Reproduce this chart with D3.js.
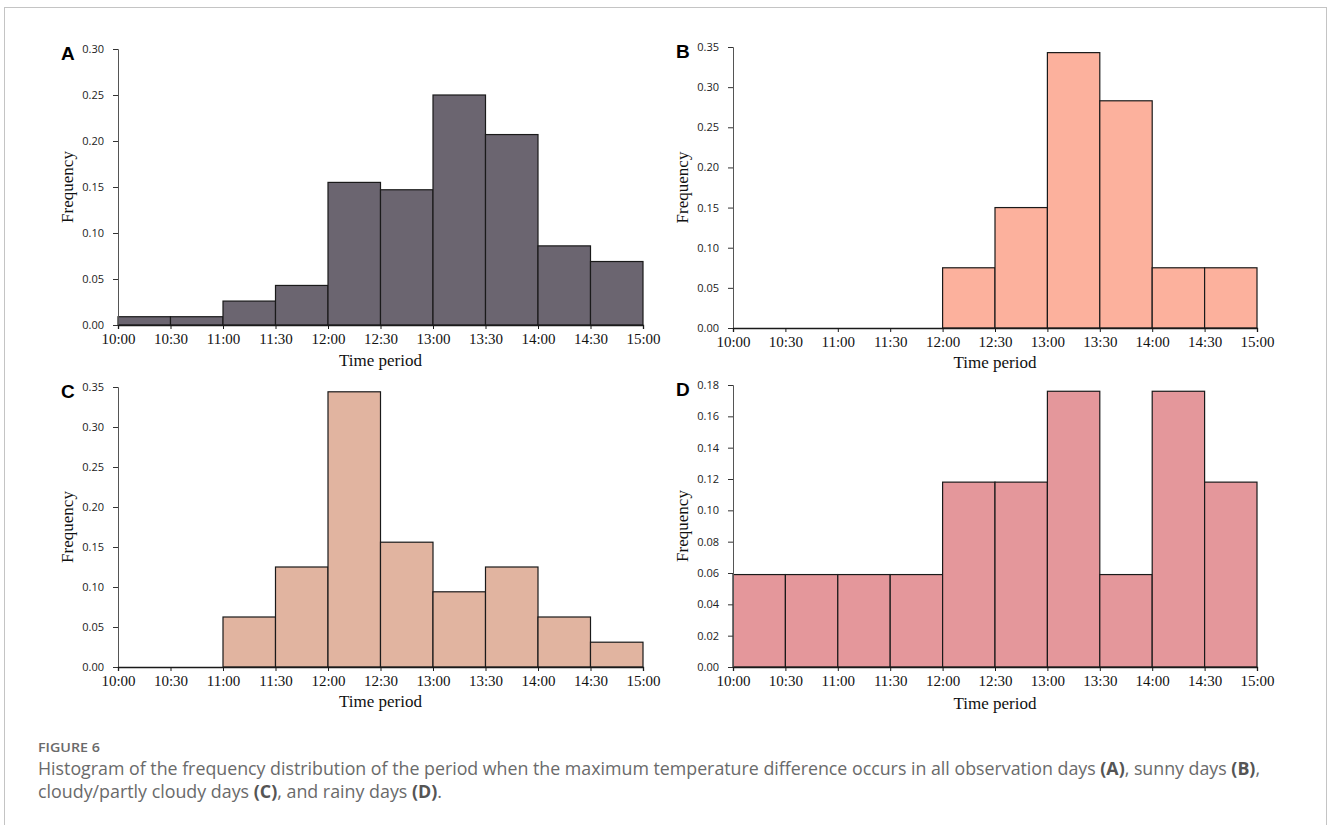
<!DOCTYPE html>
<html>
<head>
<meta charset="utf-8">
<script src="https://cdn.jsdelivr.net/npm/d3@7"></script>
<style>
  body { margin: 0; background: #fff; }
  svg { display: block; }
  .ytick text { font-family: "Open Sans", "Liberation Sans", sans-serif; font-size: 11px; fill: #222; }
  .xtick text { font-family: "Liberation Serif", "Times New Roman", serif; font-size: 15px; fill: #111; }
  .atitle { font-family: "Liberation Serif", "Times New Roman", serif; font-size: 17px; fill: #111; }
  .plabel { font-family: "Liberation Sans", Arial, sans-serif; font-size: 19px; font-weight: bold; fill: #000; }
  .cap { font-family: "Open Sans", sans-serif; fill: #6a6a6a; }
</style>
</head>
<body>
<script>
var timeLabels = ["10:00", "10:30", "11:00", "11:30", "12:00", "12:30",
                  "13:00", "13:30", "14:00", "14:30", "15:00"];

// frequency per half-hour bin
var freqA = [0.009, 0.009, 0.026, 0.043, 0.155, 0.147, 0.250, 0.207, 0.086, 0.069];
var freqB = [0, 0, 0, 0, 0.075, 0.150, 0.343, 0.283, 0.075, 0.075];
var freqC = [0, 0, 0.0625, 0.125, 0.344, 0.156, 0.094, 0.125, 0.0625, 0.031];
var freqD = [0.059, 0.059, 0.059, 0.059, 0.118, 0.118, 0.176, 0.059, 0.176, 0.118];

var yTicksA = [0, 0.05, 0.10, 0.15, 0.20, 0.25, 0.30];
var yTicksB = [0, 0.05, 0.10, 0.15, 0.20, 0.25, 0.30, 0.35];
var yTicksC = [0, 0.05, 0.10, 0.15, 0.20, 0.25, 0.30, 0.35];
var yTicksD = [0, 0.02, 0.04, 0.06, 0.08, 0.10, 0.12, 0.14, 0.16, 0.18];

var W = 1328, H = 825;
var svg = d3.select("body").append("svg").attr("width", W).attr("height", H);

// outer frame of the figure
svg.append("rect")
  .attr("x", 4.5).attr("y", 7.5)
  .attr("width", 1322).attr("height", 840)
  .attr("fill", "none").attr("stroke", "#c4c4c4");

var panels = [
  {tag: "A", data: freqA, ticks: yTicksA, fill: "#6b6570", x0: 118, x1: 643, top: 49, bot: 325, tY: 366},
  {tag: "B", data: freqB, ticks: yTicksB, fill: "#fcb19d", x0: 733, x1: 1257, top: 47, bot: 328, tY: 368},
  {tag: "C", data: freqC, ticks: yTicksC, fill: "#e1b4a0", x0: 118, x1: 643, top: 387, bot: 667, tY: 707},
  {tag: "D", data: freqD, ticks: yTicksD, fill: "#e4979b", x0: 733, x1: 1257, top: 385, bot: 667, tY: 709}
];

panels.forEach(function(p) {
  var g = svg.append("g");
  var x = d3.scaleLinear().domain([0, p.data.length]).range([p.x0, p.x1]);
  var y = d3.scaleLinear().domain([0, d3.max(p.ticks)]).range([p.bot, p.top]);

  // bars
  g.selectAll("rect.bar")
    .data(p.data)
    .enter().append("rect")
    .attr("class", "bar")
    .attr("x", function(d, i) { return x(i); })
    .attr("y", function(d) { return y(d); })
    .attr("width", function(d, i) { return x(i + 1) - x(i); })
    .attr("height", function(d) { return y(0) - y(d); })
    .attr("fill", p.fill)
    .attr("stroke", "#1a1a1a")
    .attr("stroke-width", 1.2);

  // y axis
  var ya = g.append("g")
    .attr("class", "ytick")
    .attr("transform", "translate(" + p.x0 + ",0)")
    .call(d3.axisLeft(y).tickValues(p.ticks).tickFormat(d3.format(".2f")).tickSize(5).tickPadding(9));
  ya.select(".domain").attr("stroke", "#555");
  ya.selectAll(".tick line").attr("stroke", "#333");

  // x axis
  var xa = g.append("g")
    .attr("class", "xtick")
    .attr("transform", "translate(0," + p.bot + ")")
    .call(d3.axisBottom(x).tickValues(d3.range(timeLabels.length))
      .tickFormat(function(i) { return timeLabels[i]; }).tickSize(4).tickPadding(4));
  xa.select(".domain").attr("stroke", "#1a1a1a").attr("stroke-width", 1.3);
  xa.selectAll(".tick line").attr("stroke", "#1a1a1a");

  g.append("text")
    .attr("class", "atitle")
    .attr("x", (p.x0 + p.x1) / 2).attr("y", p.tY)
    .attr("text-anchor", "middle")
    .text("Time period");

  g.append("text")
    .attr("class", "atitle")
    .attr("transform", "translate(" + (p.x0 - 45) + "," + ((p.top + p.bot) / 2) + ") rotate(-90)")
    .attr("text-anchor", "middle")
    .text("Frequency");

  g.append("text")
    .attr("class", "plabel")
    .attr("x", p.x0 - 57).attr("y", p.top + 11)
    .text(p.tag);
});

// caption
svg.append("text").attr("class", "cap")
  .attr("x", 38).attr("y", 752)
  .attr("textLength", 62).attr("lengthAdjust", "spacingAndGlyphs")
  .style("font-size", "13px").style("font-weight", 600)
  .text("FIGURE 6");

var lines = [
  {w: 1222, parts: [["Histogram of the frequency distribution of the period when the maximum temperature difference occurs in all observation days ", 0],
   ["(A)", 1], [", sunny days ", 0], ["(B)", 1], [",", 0]]},
  {w: 404, parts: [["cloudy/partly cloudy days ", 0], ["(C)", 1], [", and rainy days ", 0], ["(D)", 1], [".", 0]]}
];
lines.forEach(function(ln, k) {
  var t = svg.append("text").attr("class", "cap")
    .attr("x", 38).attr("y", 775 + k * 22.5)
    .attr("textLength", ln.w).attr("lengthAdjust", "spacingAndGlyphs")
    .style("font-size", "17.5px");
  t.selectAll("tspan").data(ln.parts).enter().append("tspan")
    .style("font-weight", function(d) { return d[1] ? 700 : 400; })
    .style("fill", function(d) { return d[1] ? "#555" : null; })
    .text(function(d) { return d[0]; });
});
</script>
</body>
</html>
